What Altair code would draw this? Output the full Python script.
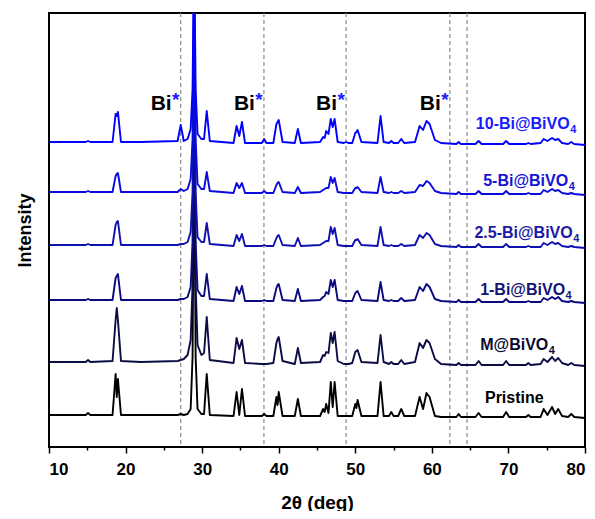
import altair as alt
import pandas as pd

FONT = "Arial, Liberation Sans, Helvetica, sans-serif"

# ---- data ----
SERIES = ["Pristine", "M@BiVO", "1-Bi@BiVO", "2.5-Bi@BiVO", "5-Bi@BiVO", "10-Bi@BiVO"]
SUBSCRIPT = ["", "4", "4", "4", "4", "4"]
OFFSETS = [30, 82, 145, 200, 253, 303]
LINE_COLORS = ["#000000", "#0c0c45", "#0a0a80", "#1010b0", "#0a0ae0", "#0000ff"]
LABEL_COLORS = ["#000000", "#0a0a30", "#151575", "#1a1aa5", "#1515d5", "#1a1aff"]
LABEL_END_X = [74.6, 75.2, 77.4, 78.4, 77.8, 78.0]
LABEL_Y = [49, 102, 157, 214, 266, 323]

X_GRID = [10.0, 13.0, 14.8, 15.1, 15.4, 18.3, 18.7, 18.85, 19.0, 19.4, 22.0, 26.8, 27.2, 27.6,
          28.1, 28.5, 28.75, 28.95, 29.15, 29.4, 29.9, 30.25, 30.6, 31.0,
          34.1, 34.5, 34.85, 35.2, 35.6, 37.8, 38.1, 38.4, 39.3, 39.7, 39.85, 40.0, 40.5, 42.1, 42.5, 42.9,
          45.4, 45.8, 46.0, 46.2, 46.5, 46.8, 47.05, 47.3, 47.7, 48.5, 48.8, 49.1, 49.6, 50.0, 50.15, 50.3, 50.8,
          52.9, 53.3, 53.7, 54.4, 54.7, 55.0, 55.6, 56.0, 56.4, 57.8, 58.4, 58.85, 59.3, 59.7, 60.4, 61.2,
          63.2, 63.5, 63.8, 65.7, 66.1, 66.5, 69.3, 69.7, 70.1, 72.3, 72.6, 72.9, 74.2, 74.6, 75.1, 75.7,
          76.1, 76.5, 77.0, 77.8, 78.2, 78.6, 80.0]

I_PRISTINE = [2, 2, 2, 4, 2, 2, 43, 20, 38, 2, 2, 2, 3, 2,
              3, 8, 60, 300, 60, 8, 3, 3, 43, 2,
              1, 25, 2, 28, 1, 1, 3, 1, 1, 20, 12, 25, 1, 1, 18, 1,
              1, 8, 5, 13, 4, 35, 10, 35, 1, 1, 1, 1, 1, 13, 9, 17, 1,
              1, 35, 1, 1, 5, 1, 1, 8, 1, 1, 20, 8, 24, 20, 1, 0,
              0, 3, 0, 0, 4, 0, 0, 5, 0, 0, 2, 0, 0, 8, 2, 10,
              3, 8, 1, 0, 3, 0, -1]
I_M = [3, 3, 3, 5, 3, 4, 45, 57, 45, 4, 3, 4, 5, 6,
       10, 25, 80, 300, 80, 20, 10, 12, 48, 5,
       2, 27, 16, 25, 2, 1, 1, 1, 2, 22, 26, 28, 4, 1, 17, 2,
       3, 10, 9, 13, 12, 32, 22, 33, 4, 1, 1, 1, 2, 13, 14, 15, 3,
       2, 30, 3, 1, 3, 1, 1, 5, 1, 3, 22, 17, 25, 22, 6, 1,
       0, 2, 0, 0, 4, 0, 0, 4, 0, 0, 2, 0, 1, 6, 3, 8,
       4, 7, 2, 0, 2, 0, -1]
I_1BI = [2, 2, 2, 3, 2, 2, 24, 26, 28, 2, 2, 2, 3, 3,
         5, 15, 60, 260, 60, 12, 6, 6, 28, 3,
         1, 15, 8, 16, 1, 1, 2, 1, 1, 14, 17, 18, 2, 1, 13, 1,
         2, 5, 6, 10, 8, 22, 15, 22, 2, 1, 1, 1, 1, 9, 10, 11, 2,
         1, 20, 2, 1, 2, 1, 1, 4, 1, 2, 15, 11, 18, 15, 3, 1,
         0, 2, 0, 0, 3, 0, 0, 3, 0, 0, 1, 0, 0, 4, 2, 5,
         3, 5, 1, 0, 1, 0, -1]
I_25BI = [2, 2, 2, 3, 2, 2, 22, 25, 26, 2, 2, 2, 3, 3,
          5, 15, 55, 240, 55, 10, 5, 5, 24, 3,
          1, 12, 6, 13, 1, 1, 2, 1, 1, 9, 11, 12, 2, 1, 9, 1,
          2, 4, 5, 6, 6, 20, 13, 19, 2, 1, 1, 1, 1, 7, 7, 8, 2,
          1, 20, 2, 1, 2, 1, 1, 3, 1, 2, 12, 9, 14, 12, 3, 1,
          0, 2, 0, 0, 3, 0, 0, 3, 0, 0, 1, 0, 0, 4, 2, 5,
          3, 4, 1, 0, 1, 0, -1]
I_5BI = [2, 2, 2, 3, 2, 2, 18, 20, 21, 2, 2, 2, 5, 3,
         5, 15, 55, 230, 55, 10, 5, 5, 22, 3,
         1, 11, 6, 11, 1, 1, 3, 1, 1, 9, 11, 12, 2, 1, 7, 1,
         2, 4, 5, 6, 6, 17, 11, 16, 2, 1, 1, 1, 1, 6, 6, 7, 2,
         1, 17, 2, 1, 2, 1, 1, 3, 1, 2, 9, 8, 13, 11, 3, 1,
         0, 2, 0, 0, 3, 0, 0, 3, 0, 0, 1, 0, 0, 4, 2, 5,
         3, 4, 1, 0, 1, 0, -1]
I_10BI = [2, 2, 2, 3, 2, 2, 30, 28, 32, 2, 2, 3, 19, 3,
          5, 15, 55, 200, 55, 10, 5, 5, 33, 3,
          1, 18, 8, 22, 1, 1, 5, 1, 1, 20, 22, 24, 2, 1, 15, 1,
          2, 7, 6, 13, 10, 25, 17, 25, 2, 1, 2, 1, 1, 11, 12, 14, 2,
          1, 28, 2, 1, 3, 1, 1, 5, 1, 2, 18, 14, 23, 20, 4, 1,
          0, 2, 0, 0, 3, 0, 0, 3, 0, 0, 1, 0, 1, 5, 3, 6,
          4, 5, 1, 0, 2, 0, -1]
INTENSITIES = [I_PRISTINE, I_M, I_1BI, I_25BI, I_5BI, I_10BI]

BI_PEAKS = [27.2, 38.07, 48.8, 62.35]
DASHED_X = [27.2, 38.07, 48.8, 62.35, 64.6]

# ---- encodings shared by all layers ----
x_enc = alt.X(
    "x:Q",
    scale=alt.Scale(domain=[10, 80], nice=False, zero=False),
    axis=alt.Axis(
        title="2θ (deg)",
        values=list(range(10, 81, 5)),
        labelExpr="datum.value % 10 === 0 ? datum.label : ''",
        format="d",
        tickSize={"condition": {"test": "datum.value % 10 === 0", "value": 6}, "value": 3},
        tickWidth=1.5,
        tickColor="black",
        domain=False,
        grid=False,
        labelFont=FONT,
        labelFontSize=17,
        labelFontWeight="bold",
        labelColor="black",
        labelPadding=8,
        labelOverlap=False,
        titleFont=FONT,
        titleFontSize=19,
        titleFontWeight="bold",
        titleColor="black",
        titlePadding=16,
    ),
)
y_enc = alt.Y(
    "y:Q",
    scale=alt.Scale(domain=[0, 434], nice=False, zero=False),
    axis=alt.Axis(
        title="Intensity",
        labels=False,
        ticks=False,
        domain=False,
        grid=False,
        titleFont=FONT,
        titleFontSize=18,
        titleFontWeight="bold",
        titleColor="black",
        titlePadding=15,
    ),
)

layers = []

dash_df = pd.DataFrame({"x": DASHED_X})
layers.append(
    alt.Chart(dash_df).mark_rule(color="#8c8c8c", strokeDash=[4, 3], strokeWidth=1.2).encode(x=x_enc)
)

for name, off, col, vals in zip(SERIES, OFFSETS, LINE_COLORS, INTENSITIES):
    df = pd.DataFrame({"x": X_GRID, "y": [off + v for v in vals], "series": name})
    layers.append(
        alt.Chart(df).mark_line(color=col, strokeWidth=1.9, clip=True, strokeJoin="round").encode(
            x=x_enc, y=y_enc, order="x:Q"
        )
    )

lab_df = pd.DataFrame({"x": LABEL_END_X, "y": LABEL_Y, "label": SERIES, "sub": SUBSCRIPT, "c": LABEL_COLORS})
layers.append(
    alt.Chart(lab_df).mark_text(font=FONT, fontSize=16, fontWeight="bold", align="right", baseline="middle").encode(
        x=x_enc, y=y_enc, text="label:N", color=alt.Color("c:N", scale=None)
    )
)
layers.append(
    alt.Chart(lab_df).mark_text(font=FONT, fontSize=11, fontWeight="bold", align="left", baseline="middle",
                                dx=0.5, dy=6).encode(
        x=x_enc, y=y_enc, text="sub:N", color=alt.Color("c:N", scale=None)
    )
)

bi_df = pd.DataFrame({"x": BI_PEAKS})
layers.append(
    alt.Chart(bi_df).mark_text(text="Bi", font=FONT, fontSize=21, fontWeight="bold", color="black",
                               align="right", baseline="alphabetic", dx=-9).encode(
        x=x_enc, y=alt.value(97)
    )
)
layers.append(
    alt.Chart(bi_df).mark_text(text="*", font=FONT, fontSize=19, fontWeight="bold", color="#1a1aff",
                               align="center", baseline="alphabetic", dx=-5).encode(
        x=x_enc, y=alt.value(93)
    )
)

chart = alt.layer(*layers).properties(
    width=536,
    height=434,
    autosize=alt.AutoSizeParams(type="none"),
    padding={"left": 41, "top": 5, "right": 2, "bottom": 64},
    background="white",
).configure_view(stroke="black", strokeWidth=2)

chart.save("out.html", embed_options={"renderer": "svg", "actions": False})
